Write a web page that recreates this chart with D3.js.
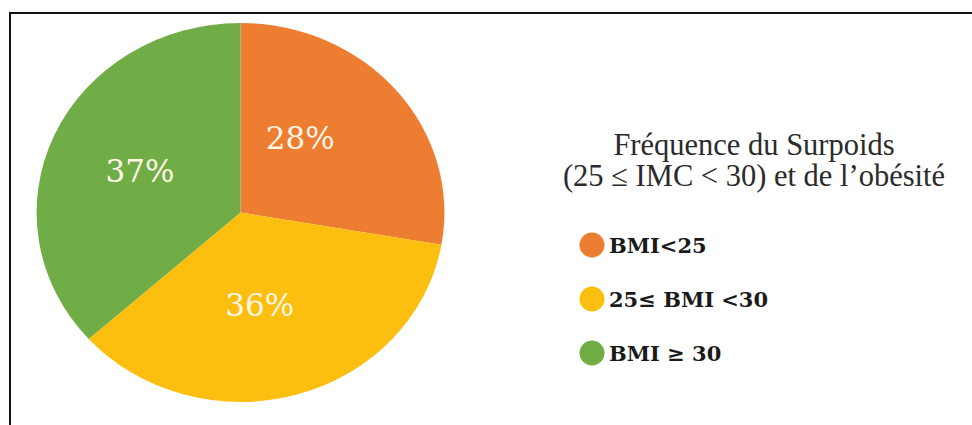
<!DOCTYPE html>
<html>
<head>
<meta charset="utf-8">
<script src="https://cdn.jsdelivr.net/npm/d3@7"></script>
<style>
  html, body { margin: 0; padding: 0; background: #fff; }
  svg { display: block; }
</style>
</head>
<body>
<svg id="chart" width="972" height="425"></svg>
<script>
// Share of each BMI class (percent)
const categories = ["BMI<25", "25\u2264 BMI <30", "BMI \u2265 30"];
const values = [28, 36, 37];
const valueLabels = ["28%", "36%", "37%"];
const colors = ["#ED7D31", "#FCBF10", "#70AD47"];
const titleLines = ["Fr\u00e9quence du Surpoids", "(25 \u2264 IMC < 30) et de l\u2019ob\u00e9sit\u00e9"];

const svg = d3.select("#chart");

// frame
svg.append("rect")
  .attr("x", 10).attr("y", 13)
  .attr("width", 975).attr("height", 430)
  .attr("fill", "none").attr("stroke", "#111").attr("stroke-width", 2);

const cx = 240.5, cy = 212.5, r = 189.5, sx = 1.076;

const pie = d3.pie().sort(null).value(d => d)(values);
const arc = d3.arc().innerRadius(0).outerRadius(r);

const g = svg.append("g")
  .attr("transform", `translate(${cx},${cy}) scale(${sx},1)`);

g.selectAll("path")
  .data(pie)
  .join("path")
  .attr("d", arc)
  .attr("fill", (d, i) => colors[i]);

// value labels, placed along each slice's bisector
const labelShift = [-0.23, 0.09, 0];
const labelRadius = [0.49, 0.5, 0.54];
svg.append("g").selectAll("text")
  .data(pie)
  .join("text")
  .attr("x", (d, i) => {
    const a = (d.startAngle + d.endAngle) / 2 + labelShift[i];
    return cx + Math.sin(a) * r * labelRadius[i] * sx;
  })
  .attr("y", (d, i) => {
    const a = (d.startAngle + d.endAngle) / 2 + labelShift[i];
    return cy - Math.cos(a) * r * labelRadius[i];
  })
  .attr("dy", "0.35em")
  .attr("text-anchor", "middle")
  .attr("font-family", "'DejaVu Serif', serif")
  .attr("font-size", 31)
  .attr("fill", "#FFF6E6")
  .text((d, i) => valueLabels[i]);

// title
svg.append("g").selectAll("text")
  .data(titleLines)
  .join("text")
  .attr("x", 754)
  .attr("y", (d, i) => 155 + i * 31)
  .attr("text-anchor", "middle")
  .attr("font-family", "'Liberation Serif', serif")
  .attr("font-size", 30.5)
  .attr("fill", "#2b2b2b")
  .text(d => d);

// legend
const legendY = d3.scalePoint().domain(categories).range([245, 353]);
const lg = svg.append("g").selectAll("g")
  .data(categories)
  .join("g")
  .attr("transform", d => `translate(592,${legendY(d)})`);

lg.append("circle")
  .attr("r", 12.5)
  .attr("fill", (d, i) => colors[i]);

lg.append("text")
  .attr("x", 17)
  .attr("y", 8)
  .attr("font-family", "'DejaVu Serif', serif")
  .attr("font-weight", "bold")
  .attr("font-size", 21)
  .attr("fill", "#1a1a1a")
  .text(d => d);
</script>
</body>
</html>
